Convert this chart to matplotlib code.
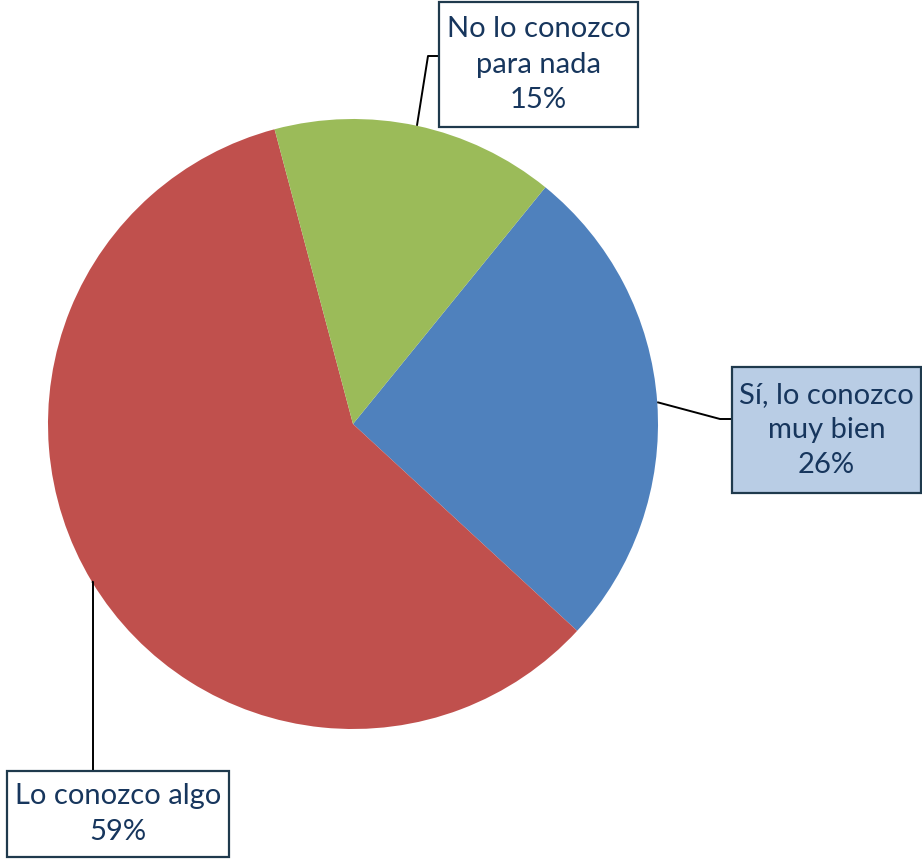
import numpy as np
import matplotlib
matplotlib.use("Agg")
import matplotlib.pyplot as plt
from matplotlib.patches import Rectangle

# data
labels = ["Sí, lo conozco\nmuy bien", "Lo conozco algo", "No lo conozco\npara nada"]
values = [26, 59, 15]
colors = ["#4F81BD", "#C0504D", "#9BBB59"]

W, H = 922, 864
fig = plt.figure(figsize=(W / 100, H / 100), dpi=100)
ax = fig.add_axes([0, 0, 1, 1])
ax.set_xlim(0, W)
ax.set_ylim(0, H)
ax.set_aspect("equal")
ax.axis("off")

cx, cy, r = 353, H - 424, 305
wedges, _ = ax.pie(values, colors=colors, startangle=50.9, counterclock=False,
                   center=(cx, cy), radius=r, frame=True,
                   wedgeprops=dict(linewidth=0))
ax.set_xlim(0, W)
ax.set_ylim(0, H)
ax.axis("off")

# label boxes: (x0, ytop, x1, ybottom) in pixel coords from the top
boxes = [(732, 367, 921, 493), (7, 771, 229, 857), (439, 2, 638, 127)]
box_fill = ["#B9CDE5", "white", "white"]
# elbow points of the leader lines (pixels from top)
elbows = [(720, 419), (93, 582), (428, 56)]
ends = [(732, 419), (93, 771), (439, 56)]

txt_color = "#17365D"
for i, w in enumerate(wedges):
    mid = np.deg2rad((w.theta1 + w.theta2) / 2)
    ax_pt = (cx + r * np.cos(mid), cy + r * np.sin(mid))
    ex, ey = elbows[i]
    nx, ny = ends[i]
    ax.plot([ax_pt[0], ex, nx], [ax_pt[1], H - ey, H - ny], color="black", lw=1.4,
            solid_capstyle="butt", zorder=3)
    x0, y0, x1, y1 = boxes[i]
    ax.add_patch(Rectangle((x0, H - y1), x1 - x0, y1 - y0, facecolor=box_fill[i],
                           edgecolor="#1F3A4D", lw=1.6, zorder=4))
    ax.text((x0 + x1) / 2, H - (y0 + y1) / 2, "%s\n%d%%" % (labels[i], values[i]),
            ha="center", va="center", fontsize=21, color=txt_color,
            family="Lato", linespacing=1.45, zorder=5)

fig.savefig("out.png", dpi=100)
